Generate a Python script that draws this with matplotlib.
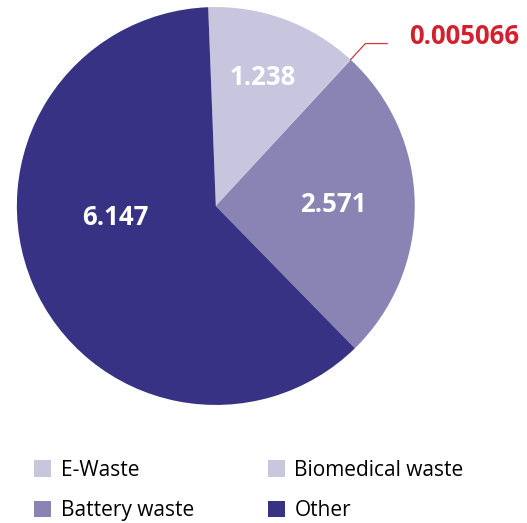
import numpy as np
import matplotlib.pyplot as plt
from matplotlib.patches import Patch

plt.rcParams['font.family'] = ['Open Sans', 'DejaVu Sans']

# data
categories = ['E-Waste', 'Biomedical waste', 'Battery waste', 'Other']
values = [1.238, 0.005066, 2.571, 6.147]
value_labels = ['1.238', '0.005066', '2.571', '6.147']
colors = ['#c8c5de', '#c9c6df', '#8a84b4', '#373283']

fig = plt.figure(figsize=(5.27, 5.23), dpi=100)
ax = fig.add_axes([0.032, 0.2256, 0.755, 0.761])

wedges, _ = ax.pie(values, colors=colors, startangle=92.2, counterclock=False,
                   radius=1, wedgeprops=dict(linewidth=0))
ax.set_xlim(-1, 1)
ax.set_ylim(-1, 1)
ax.set_aspect('equal')

# inside labels (distance from centre, angle shift from wedge middle)
inside = {0: (0.69, 0.0), 2: (0.59, 0.0), 3: (0.51, -17.0)}
for i, (r, shift) in inside.items():
    w = wedges[i]
    mid = np.deg2rad((w.theta1 + w.theta2) / 2 + shift)
    ax.text(r * np.cos(mid), r * np.sin(mid), value_labels[i], color='white',
            fontsize=18.5, fontweight='bold', ha='center', va='center')

# leader for the tiny slice
w = wedges[1]
a = np.deg2rad((w.theta1 + w.theta2) / 2)
p0 = np.array([np.cos(a), np.sin(a)])
p1 = p0 * 1.11
p2 = p1 + np.array([0.11, 0])
ax.plot([p0[0], p1[0], p2[0]], [p0[1], p1[1], p2[1]], color='#d9343f', lw=0.9,
        clip_on=False)
ax.text(p2[0] + 0.11, p2[1] + 0.035, value_labels[1], color='#d4202e',
        fontsize=18.5, fontweight='bold', ha='left', va='center')

# legend, two columns
order = [0, 2, 1, 3]
handles = [Patch(facecolor=colors[i], edgecolor='none') for i in order]
fig.legend(handles, [categories[i] for i in order], ncol=2, frameon=False,
           loc='upper left', bbox_to_anchor=(0.049, 0.137), fontsize=15,
           handlelength=0.82, handleheight=0.82, handletextpad=0.45,
           labelspacing=0.92, columnspacing=3.55, borderaxespad=0)

fig.savefig('out.png', dpi=100)
